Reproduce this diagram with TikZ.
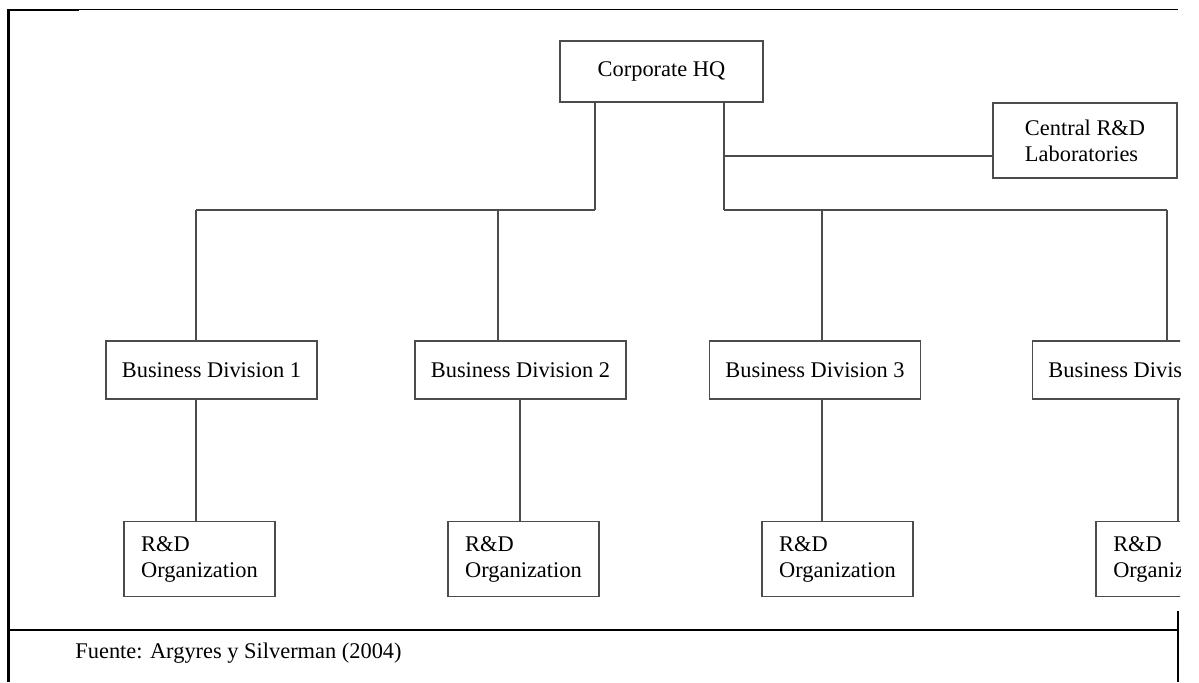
\documentclass[tikz,border=0pt]{standalone}
\usepackage{fontspec}
\setmainfont{Liberation Serif}
\begin{document}
\begin{tikzpicture}[x=0.5pt, y=-0.5pt,
	box/.style={draw=black!70, line width=0.65pt, inner sep=0pt, font=\fontsize{11.2}{13}\selectfont},
	unit/.style={box, minimum width=105.5pt, minimum height=29pt},
	lab/.style={box, align=left, minimum width=75.5pt, minimum height=37.5pt},
	link/.style={draw=black!70, line width=0.65pt},
	frame/.style={line width=1.3pt}]
	\useasboundingbox (0,0) rectangle (1199,682);
	\begin{scope}
		\clip (0,0) rectangle (1180,682);
		% top of the chart
		\node[box, minimum width=101.5pt, minimum height=30.5pt] (hq) at (661.5,71.5) {Corporate HQ};
		\node[lab, minimum width=92pt] (crd) at (1085,140.5) {Central R\&D\\Laboratories};
		% divisions and their R&D units
		\foreach \n/\x in {1/211.5, 2/520.5, 3/815, 4/1138} {\node[unit] (bd\n) at (\x,370) {Business Division \n};}
		\foreach \n/\x in {1/199.5, 2/523.5, 3/837.5, 4/1171.5} {\node[lab] (rd\n) at (\x,559) {R\&D\\Organization};}
		% junctions
		\coordinate (jl) at (595,210);
		\coordinate (jr) at (724,210);
		\coordinate (jc) at (724,156);
		\foreach \n/\x in {1/196, 2/498, 3/822, 4/1167} {\coordinate (d\n) at (\x,210);}
		\foreach \n/\x in {1/196, 2/520, 3/822, 4/1178} {\coordinate (u\n) at (\x,460);}
		\draw[link] (hq.south -| jl) -- (jl);
		\draw[link] (hq.south -| jr) -- (jr);
		\draw[link] (jc) -- (jc -| crd.west);
		\draw[link] (d1) -- (jl);
		\draw[link] (jr) -- (d4);
		\foreach \n in {1,2,3,4} {\draw[link] (d\n) -- (d\n |- bd\n.north);}
		\foreach \n in {1,2,3,4} {\draw[link] (u\n |- bd\n.south) -- (u\n |- rd\n.north);}
	\end{scope}
	% frame round the figure
	\draw[line width=0.5pt] (8,9.5) -- (1178,9.5);
	\draw[line width=1pt] (8,10) -- (79,10);
	\draw[frame] (8.7,9) -- (8.7,682);
	\draw[line width=1pt] (8,629.5) -- (1178,629.5);
	\draw[line width=1pt] (1178,611) -- (1178,682);
	\node[anchor=base west, inner sep=0pt, font=\fontsize{11.2}{13}\selectfont] (src) at (75,658) {Fuente: Argyres y Silverman (2004)};
\end{tikzpicture}
\end{document}
